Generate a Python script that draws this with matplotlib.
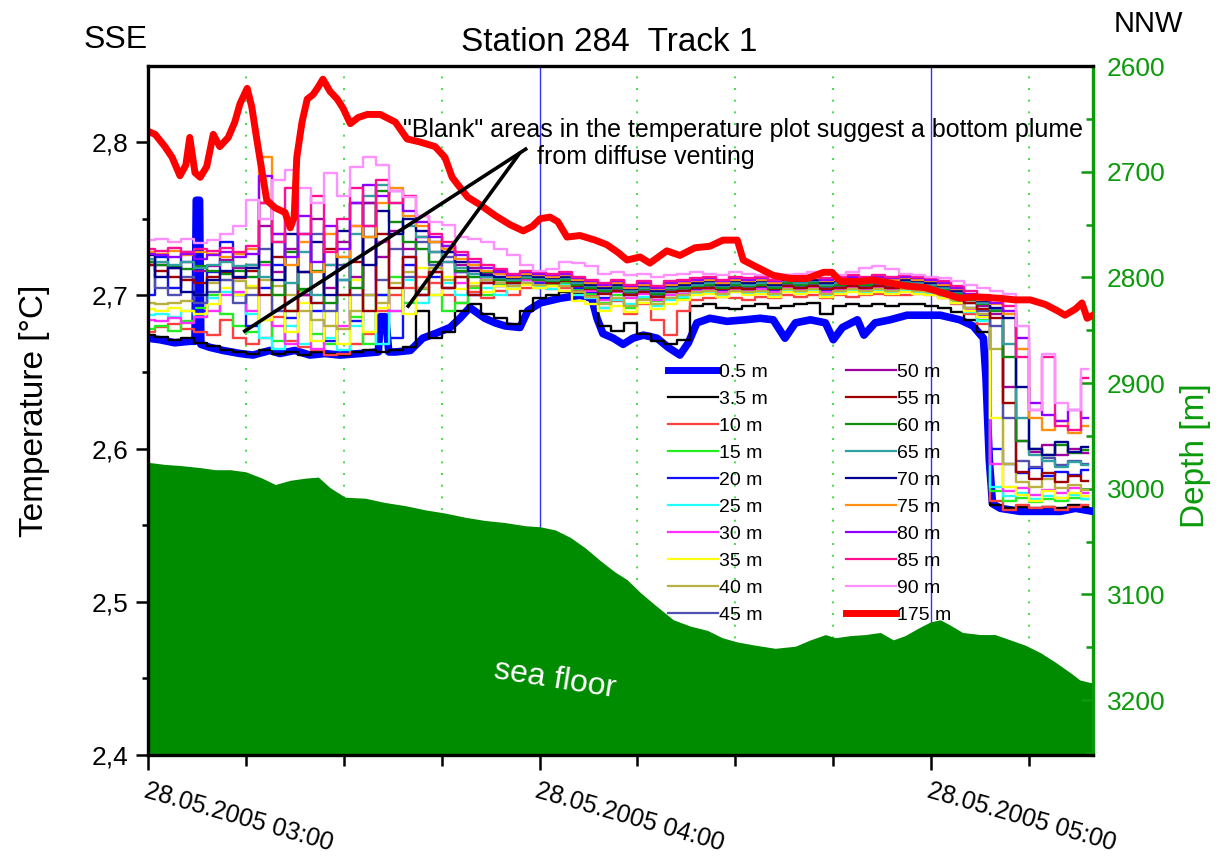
import numpy as np
import matplotlib
matplotlib.use("Agg")
import matplotlib.pyplot as plt
from matplotlib.ticker import FuncFormatter, MultipleLocator, FixedLocator
from matplotlib.lines import Line2D

plt.rcParams['font.family'] = ['Liberation Sans', 'DejaVu Sans']

# ---- time base: minutes after 28.05.2005 03:00 ----
minutes = np.arange(0, 146, 2)

# ---- temperature records [°C] of the thermistor chain ----
temp_3_5 = [2.674, 2.673, 2.671, 2.672, 2.669, 2.667, 2.664, 2.663,
            2.662, 2.664, 2.662, 2.663, 2.661, 2.663, 2.662, 2.661, 2.663, 2.664, 2.663, 2.664,
            2.666, 2.690, 2.672, 2.676, 2.690, 2.694, 2.688, 2.685,
            2.681, 2.690, 2.698, 2.700, 2.702, 2.701, 2.699, 2.680, 2.677, 2.682, 2.675, 2.670,
            2.668, 2.671, 2.693, 2.694, 2.692, 2.691, 2.693, 2.694, 2.692, 2.693, 2.694, 2.695,
            2.688, 2.693, 2.694, 2.693, 2.694, 2.693, 2.694, 2.694, 2.693,
            2.692, 2.689, 2.684, 2.676, 2.563, 2.561, 2.562, 2.561, 2.562, 2.561, 2.563, 2.562]
temp_10 = [2.676, 2.679, 2.681, 2.678, 2.676, 2.674, 2.684, 2.672,
           2.668, 2.672, 2.686, 2.670, 2.666, 2.664, 2.661, 2.662, 2.668, 2.675, 2.690, 2.700,
           2.705, 2.712, 2.708, 2.700, 2.695, 2.702, 2.698, 2.703,
           2.700, 2.705, 2.706, 2.704, 2.705, 2.703, 2.700, 2.692, 2.696, 2.688, 2.694, 2.684,
           2.674, 2.690, 2.697, 2.698, 2.699, 2.698, 2.697, 2.699, 2.698, 2.700, 2.699, 2.700,
           2.698, 2.700, 2.699, 2.700, 2.701, 2.700, 2.700, 2.701, 2.700,
           2.698, 2.694, 2.688, 2.681, 2.566, 2.560, 2.563, 2.561, 2.562, 2.560, 2.562, 2.563]
temp_15 = [2.678, 2.680, 2.677, 2.683, 2.692, 2.700, 2.688, 2.680,
           2.676, 2.684, 2.670, 2.690, 2.703, 2.675, 2.668, 2.700, 2.686, 2.668, 2.700, 2.712,
           2.695, 2.704, 2.700, 2.690, 2.695, 2.705, 2.700, 2.707,
           2.706, 2.708, 2.705, 2.707, 2.708, 2.704, 2.701, 2.695, 2.700, 2.692, 2.698, 2.696,
           2.700, 2.698, 2.702, 2.703, 2.701, 2.703, 2.702, 2.703, 2.701, 2.704, 2.703, 2.704,
           2.701, 2.703, 2.704, 2.703, 2.704, 2.703, 2.704, 2.703, 2.702,
           2.700, 2.696, 2.690, 2.684, 2.572, 2.566, 2.568, 2.565, 2.567, 2.566, 2.568, 2.567]
temp_20 = [2.700, 2.725, 2.705, 2.728, 2.690, 2.715, 2.735, 2.700,
           2.680, 2.705, 2.720, 2.685, 2.740, 2.690, 2.670, 2.710, 2.683, 2.760, 2.700, 2.672,
           2.720, 2.700, 2.712, 2.705, 2.715, 2.700, 2.710, 2.706,
           2.708, 2.710, 2.708, 2.709, 2.707, 2.705, 2.702, 2.698, 2.704, 2.700, 2.703, 2.699,
           2.702, 2.701, 2.704, 2.705, 2.703, 2.705, 2.704, 2.705, 2.703, 2.706, 2.705, 2.706,
           2.703, 2.705, 2.706, 2.705, 2.706, 2.705, 2.706, 2.705, 2.704,
           2.702, 2.698, 2.692, 2.687, 2.600, 2.590, 2.584, 2.587, 2.582, 2.585, 2.583, 2.586]
temp_25 = [2.687, 2.688, 2.686, 2.690, 2.686, 2.698, 2.702, 2.700,
           2.688, 2.672, 2.665, 2.680, 2.668, 2.695, 2.672, 2.664, 2.680, 2.700, 2.668, 2.690,
           2.710, 2.695, 2.718, 2.708, 2.700, 2.712, 2.705, 2.700,
           2.706, 2.708, 2.706, 2.704, 2.707, 2.700, 2.698, 2.692, 2.697, 2.694, 2.699, 2.693,
           2.697, 2.699, 2.701, 2.702, 2.700, 2.702, 2.701, 2.702, 2.700, 2.703, 2.702, 2.703,
           2.700, 2.702, 2.703, 2.702, 2.703, 2.702, 2.703, 2.702, 2.701,
           2.699, 2.695, 2.689, 2.683, 2.575, 2.569, 2.571, 2.567, 2.569, 2.568, 2.570, 2.567]
temp_30 = [2.684, 2.683, 2.685, 2.682, 2.686, 2.690, 2.700, 2.702,
           2.690, 2.720, 2.680, 2.668, 2.700, 2.665, 2.720, 2.680, 2.745, 2.700, 2.735, 2.690,
           2.725, 2.705, 2.715, 2.722, 2.708, 2.716, 2.708, 2.712,
           2.708, 2.710, 2.709, 2.708, 2.710, 2.706, 2.703, 2.697, 2.702, 2.698, 2.701, 2.697,
           2.700, 2.701, 2.703, 2.704, 2.702, 2.704, 2.703, 2.704, 2.702, 2.705, 2.704, 2.705,
           2.702, 2.704, 2.705, 2.704, 2.705, 2.704, 2.705, 2.704, 2.703,
           2.701, 2.697, 2.691, 2.686, 2.590, 2.572, 2.574, 2.570, 2.573, 2.571, 2.574, 2.571]
temp_35 = [2.691, 2.690, 2.692, 2.690, 2.688, 2.694, 2.705, 2.700,
           2.706, 2.684, 2.700, 2.676, 2.695, 2.670, 2.690, 2.668, 2.710, 2.676, 2.692, 2.705,
           2.688, 2.718, 2.700, 2.712, 2.704, 2.708, 2.702, 2.706,
           2.704, 2.707, 2.705, 2.706, 2.703, 2.696, 2.694, 2.690, 2.693, 2.689, 2.695, 2.691,
           2.694, 2.697, 2.700, 2.701, 2.699, 2.702, 2.700, 2.701, 2.699, 2.702, 2.701, 2.702,
           2.699, 2.701, 2.702, 2.701, 2.702, 2.701, 2.702, 2.701, 2.700,
           2.698, 2.695, 2.690, 2.686, 2.620, 2.575, 2.570, 2.566, 2.572, 2.568, 2.571, 2.569]
temp_40 = [2.695, 2.694, 2.695, 2.696, 2.700, 2.708, 2.710, 2.709,
           2.705, 2.710, 2.706, 2.700, 2.690, 2.684, 2.680, 2.678, 2.690, 2.700, 2.695, 2.708,
           2.715, 2.705, 2.718, 2.710, 2.712, 2.706, 2.710, 2.708,
           2.706, 2.708, 2.707, 2.709, 2.706, 2.702, 2.699, 2.694, 2.698, 2.693, 2.697, 2.694,
           2.698, 2.700, 2.702, 2.703, 2.701, 2.703, 2.702, 2.703, 2.701, 2.704, 2.703, 2.704,
           2.701, 2.703, 2.704, 2.703, 2.704, 2.703, 2.704, 2.703, 2.702,
           2.700, 2.697, 2.692, 2.688, 2.665, 2.590, 2.578, 2.575, 2.580, 2.574, 2.576, 2.573]
temp_45 = [2.720, 2.705, 2.700, 2.712, 2.695, 2.702, 2.710, 2.695,
           2.700, 2.730, 2.690, 2.750, 2.700, 2.740, 2.690, 2.720, 2.700, 2.745, 2.710, 2.730,
           2.712, 2.735, 2.720, 2.725, 2.715, 2.720, 2.712, 2.715,
           2.710, 2.712, 2.711, 2.709, 2.710, 2.707, 2.705, 2.702, 2.704, 2.701, 2.703, 2.700,
           2.703, 2.704, 2.705, 2.706, 2.705, 2.706, 2.705, 2.706, 2.705, 2.707, 2.706, 2.707,
           2.705, 2.706, 2.707, 2.706, 2.707, 2.706, 2.707, 2.706, 2.705,
           2.703, 2.700, 2.695, 2.690, 2.680, 2.620, 2.592, 2.588, 2.594, 2.589, 2.592, 2.590]
temp_50 = [2.722, 2.720, 2.718, 2.722, 2.716, 2.719, 2.723, 2.718,
           2.720, 2.745, 2.715, 2.730, 2.700, 2.750, 2.705, 2.735, 2.712, 2.760, 2.725, 2.742,
           2.730, 2.738, 2.728, 2.732, 2.720, 2.718, 2.714, 2.716,
           2.711, 2.713, 2.712, 2.710, 2.711, 2.708, 2.707, 2.704, 2.706, 2.704, 2.705, 2.703,
           2.705, 2.706, 2.707, 2.707, 2.706, 2.707, 2.706, 2.707, 2.706, 2.708, 2.707, 2.708,
           2.706, 2.707, 2.708, 2.707, 2.708, 2.707, 2.708, 2.707, 2.706,
           2.704, 2.701, 2.697, 2.693, 2.688, 2.640, 2.605, 2.598, 2.602, 2.596, 2.600, 2.597]
temp_55 = [2.720, 2.716, 2.712, 2.710, 2.708, 2.712, 2.715, 2.711,
           2.716, 2.700, 2.725, 2.690, 2.715, 2.695, 2.730, 2.700, 2.722, 2.690, 2.740, 2.705,
           2.725, 2.700, 2.715, 2.705, 2.712, 2.700, 2.708, 2.710,
           2.708, 2.711, 2.710, 2.708, 2.709, 2.706, 2.704, 2.701, 2.703, 2.700, 2.702, 2.699,
           2.702, 2.703, 2.705, 2.705, 2.704, 2.705, 2.704, 2.706, 2.704, 2.706, 2.705, 2.706,
           2.704, 2.705, 2.706, 2.705, 2.706, 2.705, 2.706, 2.705, 2.704,
           2.702, 2.699, 2.695, 2.691, 2.685, 2.630, 2.585, 2.580, 2.584, 2.578, 2.582, 2.579]
temp_60 = [2.722, 2.720, 2.719, 2.717, 2.719, 2.716, 2.714, 2.716,
           2.712, 2.722, 2.700, 2.728, 2.704, 2.716, 2.695, 2.725, 2.705, 2.738, 2.768, 2.748,
           2.735, 2.730, 2.722, 2.728, 2.716, 2.712, 2.715, 2.710,
           2.709, 2.711, 2.710, 2.709, 2.710, 2.707, 2.705, 2.703, 2.705, 2.702, 2.704, 2.701,
           2.704, 2.705, 2.706, 2.707, 2.705, 2.707, 2.706, 2.707, 2.705, 2.708, 2.707, 2.708,
           2.706, 2.707, 2.708, 2.707, 2.708, 2.707, 2.708, 2.707, 2.706,
           2.704, 2.701, 2.697, 2.694, 2.690, 2.660, 2.605, 2.600, 2.596, 2.602, 2.597, 2.599]
temp_65 = [2.724, 2.722, 2.720, 2.722, 2.718, 2.720, 2.722, 2.719,
           2.720, 2.712, 2.735, 2.708, 2.728, 2.700, 2.720, 2.710, 2.740, 2.765, 2.772, 2.760,
           2.745, 2.738, 2.728, 2.722, 2.718, 2.714, 2.712, 2.711,
           2.710, 2.712, 2.711, 2.710, 2.711, 2.708, 2.706, 2.704, 2.706, 2.703, 2.705, 2.702,
           2.705, 2.706, 2.707, 2.708, 2.706, 2.708, 2.707, 2.708, 2.706, 2.709, 2.708, 2.709,
           2.707, 2.708, 2.709, 2.708, 2.709, 2.708, 2.709, 2.708, 2.707,
           2.705, 2.702, 2.698, 2.695, 2.691, 2.668, 2.620, 2.596, 2.592, 2.588, 2.591, 2.589]
temp_70 = [2.726, 2.712, 2.718, 2.702, 2.700, 2.710, 2.716, 2.712,
           2.718, 2.760, 2.710, 2.740, 2.715, 2.735, 2.700, 2.742, 2.760, 2.720, 2.755, 2.740,
           2.750, 2.742, 2.735, 2.728, 2.722, 2.716, 2.713, 2.712,
           2.711, 2.713, 2.712, 2.711, 2.712, 2.709, 2.707, 2.705, 2.707, 2.704, 2.706, 2.703,
           2.706, 2.707, 2.708, 2.709, 2.707, 2.709, 2.708, 2.709, 2.707, 2.710, 2.709, 2.710,
           2.708, 2.709, 2.710, 2.709, 2.710, 2.709, 2.710, 2.709, 2.708,
           2.706, 2.703, 2.699, 2.696, 2.692, 2.685, 2.640, 2.600, 2.596, 2.604, 2.598, 2.601]
temp_75 = [2.728, 2.727, 2.729, 2.726, 2.728, 2.727, 2.725, 2.727,
           2.730, 2.790, 2.740, 2.720, 2.735, 2.715, 2.740, 2.725, 2.745, 2.738, 2.760, 2.770,
           2.752, 2.745, 2.735, 2.730, 2.724, 2.720, 2.716, 2.714,
           2.712, 2.714, 2.713, 2.712, 2.713, 2.710, 2.708, 2.706, 2.708, 2.705, 2.707, 2.704,
           2.707, 2.708, 2.709, 2.710, 2.708, 2.710, 2.709, 2.710, 2.708, 2.711, 2.710, 2.711,
           2.709, 2.710, 2.711, 2.710, 2.711, 2.710, 2.711, 2.710, 2.709,
           2.707, 2.704, 2.700, 2.697, 2.694, 2.688, 2.665, 2.620, 2.612, 2.618, 2.610, 2.615]
temp_80 = [2.727, 2.726, 2.725, 2.727, 2.724, 2.726, 2.728, 2.725,
           2.727, 2.778, 2.740, 2.725, 2.752, 2.722, 2.745, 2.730, 2.760, 2.772, 2.765, 2.768,
           2.755, 2.748, 2.738, 2.732, 2.726, 2.722, 2.718, 2.715,
           2.713, 2.715, 2.714, 2.713, 2.714, 2.711, 2.709, 2.707, 2.709, 2.706, 2.708, 2.705,
           2.708, 2.709, 2.710, 2.711, 2.709, 2.711, 2.710, 2.711, 2.709, 2.712, 2.711, 2.712,
           2.710, 2.711, 2.712, 2.711, 2.712, 2.711, 2.712, 2.711, 2.710,
           2.708, 2.705, 2.701, 2.698, 2.695, 2.690, 2.672, 2.630, 2.622, 2.618, 2.625, 2.620]
temp_85 = [2.730, 2.729, 2.731, 2.728, 2.730, 2.729, 2.731, 2.728,
           2.732, 2.760, 2.735, 2.770, 2.740, 2.765, 2.728, 2.750, 2.770, 2.745, 2.775, 2.760,
           2.765, 2.752, 2.740, 2.735, 2.728, 2.724, 2.720, 2.717,
           2.714, 2.716, 2.715, 2.714, 2.715, 2.712, 2.710, 2.708, 2.710, 2.707, 2.709, 2.706,
           2.709, 2.710, 2.711, 2.712, 2.710, 2.712, 2.711, 2.712, 2.710, 2.713, 2.712, 2.713,
           2.711, 2.712, 2.713, 2.712, 2.713, 2.712, 2.713, 2.712, 2.711,
           2.709, 2.706, 2.703, 2.700, 2.697, 2.693, 2.660, 2.625, 2.660, 2.615, 2.612, 2.646]
temp_90 = [2.736, 2.737, 2.735, 2.737, 2.734, 2.736, 2.740, 2.745,
           2.762, 2.750, 2.775, 2.782, 2.770, 2.760, 2.780, 2.765, 2.784, 2.790, 2.785, 2.768,
           2.764, 2.752, 2.748, 2.746, 2.738, 2.737, 2.735, 2.730,
           2.726, 2.720, 2.716, 2.717, 2.722, 2.721, 2.719, 2.714, 2.715, 2.713, 2.714, 2.712,
           2.713, 2.714, 2.715, 2.714, 2.713, 2.715, 2.714, 2.713, 2.714, 2.713, 2.714, 2.715,
           2.714, 2.713, 2.715, 2.718, 2.719, 2.717, 2.714, 2.713, 2.712,
           2.711, 2.709, 2.707, 2.705, 2.703, 2.701, 2.680, 2.625, 2.662, 2.630, 2.625, 2.652]

# lowest sensor (0.5 m) with its own sample times
bottom_min = [0, 1.8, 4.1, 6.4, 7.2, 7.4, 7.9, 8.1, 9.5, 11.5,
              14.1, 16.1, 18.7, 20.2, 22.5, 24.8, 27.1, 29.4, 32.5, 35.3,
              35.6, 36.4, 36.9, 37.9, 40.2, 42.1, 44.0, 46.3, 47.8, 49.3,
              51.6, 53.2, 54.7, 57.0, 58.2, 60.1, 63.1, 66.2, 68.0, 68.8,
              69.7, 71.3, 72.8, 74.3, 75.9, 78.0, 79.7, 81.5, 82.8, 84.1,
              86.1, 88.7, 91.5, 93.8, 95.8, 97.6, 99.2, 101.5, 103.8, 105.0,
              106.4, 108.7, 109.7, 111.4, 113.7, 116.3, 119.1, 121.4, 124.4, 126.4,
              128.0, 128.4, 128.9, 129.4, 130.6, 133.6, 136.7, 139.8, 142.1, 144.8]
temp_0_5 = [2.672, 2.671, 2.669, 2.670, 2.670, 2.762, 2.762, 2.668, 2.666, 2.664,
            2.662, 2.661, 2.664, 2.662, 2.664, 2.661, 2.662, 2.661, 2.662, 2.663,
            2.686, 2.686, 2.663, 2.663, 2.664, 2.672, 2.675, 2.679, 2.685, 2.692,
            2.685, 2.682, 2.680, 2.679, 2.690, 2.695, 2.698, 2.700, 2.698, 2.685,
            2.675, 2.672, 2.668, 2.672, 2.674, 2.672, 2.666, 2.661, 2.669, 2.682,
            2.685, 2.683, 2.684, 2.685, 2.684, 2.672, 2.682, 2.684, 2.682, 2.671,
            2.679, 2.684, 2.674, 2.682, 2.684, 2.687, 2.687, 2.687, 2.684, 2.680,
            2.672, 2.646, 2.593, 2.564, 2.561, 2.559, 2.559, 2.559, 2.561, 2.559]

# uppermost sensor (175 m) with its own sample times
top_min = [0, 1.1, 2.6, 3.7, 4.9, 5.8, 6.4, 7.2, 8.0, 9.0,
           10.0, 11.0, 12.3, 13.3, 14.1, 15.2, 15.9, 16.7, 17.5, 18.2,
           19.5, 21.0, 21.8, 22.4, 22.8, 23.6, 24.4, 25.3, 26.1, 26.8,
           27.9, 29.0, 29.9, 31.0, 32.2, 33.6, 35.6, 37.9, 39.7, 41.7,
           44.0, 45.5, 46.6, 47.5, 49.0, 50.9, 53.2, 55.5, 57.5, 58.9,
           60.1, 61.6, 62.8, 64.2, 66.2, 68.5, 70.3, 72.0, 73.4, 75.4,
           76.9, 79.5, 81.5, 83.8, 86.1, 88.1, 90.3, 91.2, 93.0, 95.8,
           98.4, 101.0, 103.5, 104.8, 106.1, 109.1, 111.1, 113.7, 116.3, 119.1,
           121.4, 124.4, 126.7, 130.6, 132.9, 135.2, 137.5, 139.3, 140.5, 142.1,
           143.1, 143.9, 144.8]
temp_175 = [2.807, 2.805, 2.797, 2.790, 2.778, 2.785, 2.803, 2.780, 2.777, 2.784,
            2.805, 2.797, 2.803, 2.813, 2.825, 2.835, 2.823, 2.801, 2.780, 2.762,
            2.757, 2.754, 2.744, 2.751, 2.790, 2.813, 2.828, 2.831, 2.836, 2.841,
            2.833, 2.828, 2.822, 2.812, 2.816, 2.818, 2.818, 2.813, 2.802, 2.800,
            2.797, 2.790, 2.777, 2.772, 2.764, 2.759, 2.752, 2.746, 2.742, 2.745,
            2.750, 2.751, 2.748, 2.738, 2.739, 2.736, 2.733, 2.728, 2.723, 2.725,
            2.721, 2.729, 2.726, 2.731, 2.732, 2.736, 2.736, 2.723, 2.719, 2.713,
            2.711, 2.711, 2.715, 2.715, 2.709, 2.709, 2.710, 2.708, 2.706, 2.705,
            2.702, 2.698, 2.699, 2.698, 2.697, 2.697, 2.694, 2.690, 2.687, 2.691,
            2.695, 2.685, 2.687]

# ---- bathymetry along the track [m] ----
floor_min = [0, 2.6, 4.9, 8.0, 10.3, 12.6, 15.0, 17.5, 19.5, 21.8,
             24.1, 26.1, 27.9, 30.2, 33.3, 36.3, 39.4, 42.5, 45.5, 48.6,
             51.6, 54.7, 57.8, 60.1, 62.4, 64.7, 67.0, 69.3, 71.6, 73.4,
             75.4, 77.7, 80.5, 83.1, 85.7, 88.0, 90.3, 93.0, 96.1, 99.2,
             101.5, 103.8, 105.3, 107.6, 109.9, 112.2, 114.2, 116.0, 118.0, 119.9,
             121.4, 122.9, 124.8, 127.5, 129.8, 132.1, 134.4, 136.7, 139.0, 141.3,
             142.8, 144.8]
floor_depth = [2975, 2977, 2978, 2980, 2982, 2982, 2984, 2990, 2996, 2992,
               2990, 2989, 2999, 3008, 3009, 3013, 3016, 3020, 3023, 3027,
               3030, 3032, 3035, 3036, 3039, 3046, 3056, 3068, 3079, 3086,
               3098, 3110, 3124, 3130, 3134, 3141, 3145, 3148, 3151, 3149,
               3143, 3138, 3141, 3139, 3138, 3136, 3143, 3139, 3132, 3126,
               3124, 3129, 3136, 3138, 3138, 3143, 3148, 3155, 3164, 3174,
               3181, 3184]

# ---- labels ----
mid_labels = ['3.5 m', '10 m', '15 m', '20 m', '25 m', '30 m', '35 m', '40 m', '45 m',
              '50 m', '55 m', '60 m', '65 m', '70 m', '75 m', '80 m', '85 m', '90 m']
mid_colors = ['#000000', '#ff4040', '#22ee22', '#1010ff', '#22ffff', '#ff30ff', '#ffff10',
              '#b8b040', '#5050b0', '#a000a0', '#a00000', '#108c10', '#30a0a0', '#000090',
              '#ff9010', '#9000ff', '#ff1090', '#ff90ff']
mid_series = [temp_3_5, temp_10, temp_15, temp_20, temp_25, temp_30, temp_35, temp_40, temp_45,
              temp_50, temp_55, temp_60, temp_65, temp_70, temp_75, temp_80, temp_85, temp_90]
hour_ticks = [0, 60, 120]
hour_labels = ['28.05.2005 03:00', '28.05.2005 04:00', '28.05.2005 05:00']
quarter_ticks = [15, 30, 45, 75, 90, 105, 135]

GREEN = '#008c00'
AXGREEN = '#0a9a0a'

fig = plt.figure(figsize=(12.24, 8.63), dpi=100)
ax = fig.add_axes([0.1209, 0.1251, 0.7721, 0.7984])
ax2 = ax.twinx()
ax.set_zorder(ax2.get_zorder() + 1)
ax.patch.set_visible(False)

# time grid lines and sea floor (underneath the temperature curves)
for q in quarter_ticks:
    ax2.axvline(q, color='#40e040', ls=(0, (1, 5)), lw=1.4, zorder=0)
for h in hour_ticks[1:]:
    ax2.axvline(h, color='#3030ff', lw=1.0, zorder=0)
ax2.fill_between(floor_min, floor_depth, 3300, color=GREEN, lw=0, zorder=1)
ax2.text(62.4, 3181, 'sea floor', color='white', fontsize=23, rotation=-9,
         ha='center', va='center', zorder=2)
ax2.set_ylim(3252, 2600)
ax2.yaxis.set_major_locator(MultipleLocator(100))
ax2.yaxis.set_minor_locator(MultipleLocator(50))
ax2.tick_params(axis='y', which='major', direction='in', length=9, width=1.8,
                color=AXGREEN, labelcolor=AXGREEN, labelsize=19, pad=10)
ax2.tick_params(axis='y', which='minor', direction='in', length=5, width=1.8, color=AXGREEN)
ax2.set_ylabel('Depth [m]', color=AXGREEN, fontsize=24)
ax2.yaxis.set_label_coords(1.092, 0.435)
for s in ['left', 'top', 'bottom']:
    ax2.spines[s].set_visible(False)
ax2.spines['right'].set_color(AXGREEN)
ax2.spines['right'].set_linewidth(2.4)

# temperature records
handles = []
h0, = ax.plot(bottom_min, temp_0_5, color='#0000ff', lw=5.5, label='0.5 m')
handles.append(h0)
for lab, col, vals in zip(mid_labels, mid_colors, mid_series):
    h, = ax.plot(minutes, vals, color=col, lw=1.7, drawstyle='steps-mid', label=lab)
    handles.append(h)
h175, = ax.plot(top_min, temp_175, color='#ff0000', lw=5, label='175 m')
handles.append(h175)

# annotation
ax.plot([58.1, 14.6], [2.796, 2.676], color='black', lw=2.6, solid_capstyle='butt')
ax.plot([57.0, 39.7], [2.793, 2.692], color='black', lw=2.6, solid_capstyle='butt')
ax.text(39.1, 2.808, '"Blank" areas in the temperature plot suggest a bottom plume',
        fontsize=18, ha='left', va='center')
ax.text(59.6, 2.790, 'from diffuse venting', fontsize=18, ha='left', va='center')

leg_handles = []
for h in handles:
    leg_handles.append(Line2D([], [], color=h.get_color(),
                              lw=(5 if h.get_linewidth() > 3 else 1.6)))
ax.legend(leg_handles, [h.get_label() for h in handles], loc='upper left',
          bbox_to_anchor=(0.550, 0.568), ncol=2, frameon=False, fontsize=14,
          handlelength=2.6, handletextpad=0.05, columnspacing=4.0,
          labelspacing=0.48, borderpad=0, borderaxespad=0)

ax.set_xlim(0, 144.8)
ax.set_ylim(2.4, 2.8496)
ax.yaxis.set_major_locator(MultipleLocator(0.1))
ax.yaxis.set_minor_locator(MultipleLocator(0.05))
ax.yaxis.set_major_formatter(FuncFormatter(lambda v, p: f'{v:.1f}'.replace('.', ',')))
ax.tick_params(axis='y', which='major', direction='out', length=9, width=1.8, labelsize=19, pad=5)
ax.tick_params(axis='y', which='minor', direction='out', length=4, width=1.8)
ax.tick_params(axis='y', right=False, which='both')
ax.xaxis.set_major_locator(FixedLocator(hour_ticks))
ax.xaxis.set_minor_locator(FixedLocator(quarter_ticks))
ax.set_xticklabels(hour_labels, rotation=-16, ha='left', va='top',
                   rotation_mode='anchor', fontsize=18)
ax.tick_params(axis='x', which='major', direction='out', length=11, width=1.8, pad=6)
ax.tick_params(axis='x', which='minor', direction='out', length=8, width=1.8)
ax.set_ylabel('Temperature [°C]', fontsize=24, labelpad=30)
for s in ['left', 'top', 'bottom']:
    ax.spines[s].set_linewidth(2.4)
ax.spines['right'].set_visible(False)

fig.text(0.4975, 0.951, 'Station 284  Track 1', fontsize=24, ha='center', va='center')
fig.text(0.121, 0.9537, 'SSE', fontsize=23, ha='right', va='center')
fig.text(0.9385, 0.972, 'NNW', fontsize=21, ha='center', va='center')

fig.savefig('out.png', dpi=100)
